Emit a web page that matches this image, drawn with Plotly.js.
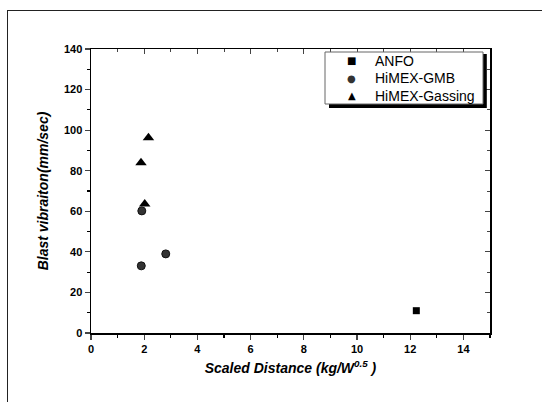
<!DOCTYPE html>
<html><head><meta charset="utf-8">
<script src="https://cdn.plot.ly/plotly-3.0.1.min.js"></script>
<style>
html,body{margin:0;padding:0;background:#fff;}
#frame{position:absolute;left:7px;top:10px;width:540px;height:400px;border-top:1.5px solid #222;border-left:1.5px solid #222;}
#chart{position:absolute;left:0;top:0;width:542px;height:402px;}
</style></head>
<body><div id="frame"></div><div id="chart"></div>
<script>
const anfoX = [12.23];
const anfoY = [11.0];
const gmbX = [1.89, 1.91, 2.81];
const gmbY = [33.1, 60.2, 39.0];
const gasX = [1.88, 2.02, 2.16];
const gasY = [83.9, 63.6, 96.2];
const seriesNames = ['ANFO', 'HiMEX-GMB', 'HiMEX-Gassing'];
const legendGlyphs = ['\u25A0', '\u25CF', '\u25B2'];

const F = 'Arial, Liberation Sans, sans-serif';
const tickFont = {family: F, size: 11, color: '#000', weight: 'bold'};
const traces = [
  {x: anfoX, y: anfoY, name: seriesNames[0], mode: 'markers', type: 'scatter',
   marker: {symbol: 'square', size: 7, color: '#000'}},
  {x: gmbX, y: gmbY, name: seriesNames[1], mode: 'markers', type: 'scatter',
   marker: {symbol: 'circle', size: 8, color: '#333', line: {color: '#111', width: 1}}},
  {x: gasX, y: gasY, name: seriesNames[2], mode: 'markers', type: 'scatter',
   marker: {symbol: 'triangle-up', size: 10, color: '#000'}},
  {x: [], y: [], xaxis: 'x2', yaxis: 'y2', showlegend: false, hoverinfo: 'skip', type: 'scatter'}
];

// custom legend (box + shadow + text entries)
const legX0 = 0.5865, legX1 = 0.9825, legY0 = 0.8063, legY1 = 0.9894;
const rowY = [0.9595, 0.8968, 0.8350];
const annotations = [];
seriesNames.forEach((n, i) => {
  annotations.push({xref: 'paper', yref: 'paper', x: 0.6534, y: rowY[i], xanchor: 'center', yanchor: 'middle',
    text: legendGlyphs[i], showarrow: false,
    font: {family: 'DejaVu Sans', size: 10, color: i === 1 ? '#333' : '#000'}});
  annotations.push({xref: 'paper', yref: 'paper', x: 0.706, y: rowY[i], xanchor: 'left', yanchor: 'middle',
    text: n, showarrow: false, font: {family: F, size: 14, color: '#000'}});
});

const layout = {
  width: 542, height: 402,
  margin: {l: 91, r: 52, t: 49, b: 69},
  paper_bgcolor: 'rgba(0,0,0,0)', plot_bgcolor: 'rgba(0,0,0,0)',
  showlegend: false,
  xaxis: {range: [0, 15], dtick: 2, tick0: 0, ticks: 'outside', ticklen: 5, tickwidth: 1.2,
    minor: {dtick: 1, ticks: 'outside', ticklen: 3, tickcolor: '#000'},
    showline: true, linecolor: '#000', linewidth: 1.5, showgrid: false, zeroline: false,
    tickfont: tickFont,
    title: {text: 'Scaled Distance (kg/W<sup>0.5</sup> )', standoff: 9,
      font: {family: F, size: 14, color: '#000', weight: 'bold', style: 'italic'}}},
  yaxis: {range: [0, 140], dtick: 20, tick0: 0, ticks: 'outside', ticklen: 5, tickwidth: 1.2,
    minor: {dtick: 10, ticks: 'outside', ticklen: 3, tickcolor: '#000'},
    showline: true, linecolor: '#000', linewidth: 1.5, showgrid: false, zeroline: false,
    tickfont: tickFont,
    title: {text: 'Blast vibraiton(mm/sec)', standoff: 12,
      font: {family: F, size: 14, color: '#000', weight: 'bold', style: 'italic'}}},
  xaxis2: {range: [0, 15], dtick: 2, tick0: 0, overlaying: 'x', side: 'top', anchor: 'y2',
    ticks: 'inside', ticklen: 5, showticklabels: false, showline: true, linecolor: '#000', linewidth: 1.5,
    minor: {dtick: 1, ticks: 'inside', ticklen: 3}, showgrid: false, zeroline: false},
  yaxis2: {range: [0, 140], dtick: 20, tick0: 0, overlaying: 'y', side: 'right', anchor: 'x2',
    ticks: 'inside', ticklen: 5, showticklabels: false, showline: true, linecolor: '#000', linewidth: 1.5,
    minor: {dtick: 10, ticks: 'inside', ticklen: 3}, showgrid: false, zeroline: false},
  shapes: [
    {type: 'rect', xref: 'paper', yref: 'paper', x0: 0.5965, x1: 0.992, y0: 0.7923, y1: 0.9824,
     line: {width: 0}, fillcolor: '#000', layer: 'above'},
    {type: 'rect', xref: 'paper', yref: 'paper', x0: legX0, x1: legX1, y0: legY0, y1: legY1,
     line: {width: 1, color: '#666'}, fillcolor: '#fff', layer: 'above'}
  ],
  annotations: annotations
};
Plotly.newPlot('chart', traces, layout, {displayModeBar: false, staticPlot: true});
</script></body></html>
